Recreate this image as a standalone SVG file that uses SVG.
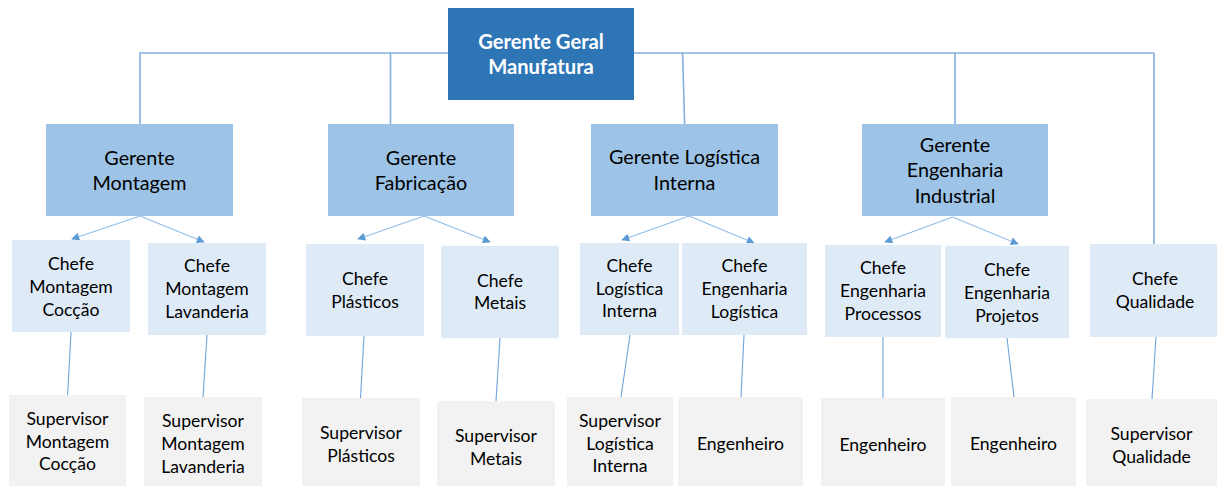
<svg xmlns="http://www.w3.org/2000/svg" width="1217" height="486" viewBox="0 0 1217 486">
  <style>
    text { font-family: Lato, "Liberation Sans", sans-serif; text-anchor: middle; fill: #000; }
    .top rect { fill: #2E75B6; }
    .top text { fill: #fff; font-weight: bold; font-size: 20.2px; }
    .mgr rect { fill: #9DC3E6; }
    .mgr text { font-size: 19.8px; }
    .chief rect { fill: #DEEBF7; }
    .chief text { font-size: 17.6px; }
    .sup rect { fill: #F2F2F2; }
    .sup text { font-size: 17.6px; }
    .trunk { stroke: #82B0DE; stroke-width: 1.6; fill: none; }
    .link { stroke: #6FA5DA; stroke-width: 1.1; fill: none; }
    .arrow { stroke: #93BDE6; stroke-width: 1.1; fill: none; marker-end: url(#head); }
  </style>
  <defs>
    <marker id="head" viewBox="0 0 10 10" refX="9" refY="5" markerWidth="10" markerHeight="8" markerUnits="userSpaceOnUse" orient="auto">
      <path d="M0,0 L10,5 L0,10 Z" fill="#5B9BD5"/>
    </marker>
  </defs>

  <!-- connectors -->
  <g id="connectors">
    <!-- trunk from the general manager -->
    <path class="trunk" d="M140,124 V53 H1154 M390.5,53 V124 M682.6,53 L684.6,124 M955,53 V124 M1154,53 V244"/>
    <!-- managers to chiefs -->
    <path class="arrow" d="M140,216 L72,239"/>
    <path class="arrow" d="M140,216 L204,242"/>
    <path class="arrow" d="M424,216 L358,239"/>
    <path class="arrow" d="M424,216 L490,242"/>
    <path class="arrow" d="M689,216 L622,240"/>
    <path class="arrow" d="M689,216 L754,243"/>
    <path class="arrow" d="M952.6,217 L885,242"/>
    <path class="arrow" d="M952.6,217 L1018,244"/>
    <!-- chiefs to supervisors -->
    <path class="link" d="M71,332 L67.6,395"/>
    <path class="link" d="M207,335 L203,397"/>
    <path class="link" d="M364,336 L360.5,398"/>
    <path class="link" d="M500,338 L496,401"/>
    <path class="link" d="M630,335 L621,397"/>
    <path class="link" d="M744,335 L741,397"/>
    <path class="link" d="M883,337 L883,398"/>
    <path class="link" d="M1007,338 L1014,397"/>
    <path class="link" d="M1156,337 L1152,399"/>
  </g>

  <!-- top level -->
  <g id="gerente-geral" class="top">
    <rect x="448" y="8" width="186" height="92"/>
    <text x="541" y="49">Gerente Geral</text>
    <text x="541" y="74">Manufatura</text>
  </g>

  <!-- managers -->
  <g id="gerente-montagem" class="mgr">
    <rect x="46" y="124" width="187" height="92"/>
    <text x="139.5" y="165">Gerente</text>
    <text x="139.5" y="190">Montagem</text>
  </g>
  <g id="gerente-fabricacao" class="mgr">
    <rect x="328" y="124" width="186" height="92"/>
    <text x="421" y="165">Gerente</text>
    <text x="421" y="190">Fabricação</text>
  </g>
  <g id="gerente-logistica" class="mgr">
    <rect x="591" y="124" width="187" height="92"/>
    <text x="684.5" y="164">Gerente Logística</text>
    <text x="684.5" y="190">Interna</text>
  </g>
  <g id="gerente-engenharia" class="mgr">
    <rect x="862" y="124" width="186" height="92"/>
    <text x="955" y="152">Gerente</text>
    <text x="955" y="177">Engenharia</text>
    <text x="955" y="203">Industrial</text>
  </g>

  <!-- chiefs -->
  <g id="chefe-coccao" class="chief">
    <rect x="12" y="240" width="118" height="92"/>
    <text x="71" y="270">Chefe</text>
    <text x="71" y="293">Montagem</text>
    <text x="71" y="316">Cocção</text>
  </g>
  <g id="chefe-lavanderia" class="chief">
    <rect x="148" y="243" width="118" height="92"/>
    <text x="207" y="272">Chefe</text>
    <text x="207" y="295">Montagem</text>
    <text x="207" y="318">Lavanderia</text>
  </g>
  <g id="chefe-plasticos" class="chief">
    <rect x="306" y="244" width="118" height="92"/>
    <text x="365" y="285">Chefe</text>
    <text x="365" y="308">Plásticos</text>
  </g>
  <g id="chefe-metais" class="chief">
    <rect x="441" y="246" width="118" height="92"/>
    <text x="500" y="287">Chefe</text>
    <text x="500" y="309">Metais</text>
  </g>
  <g id="chefe-logistica-interna" class="chief">
    <rect x="580" y="243" width="99" height="92"/>
    <text x="629.5" y="272">Chefe</text>
    <text x="629.5" y="295">Logística</text>
    <text x="629.5" y="317">Interna</text>
  </g>
  <g id="chefe-engenharia-logistica" class="chief">
    <rect x="682" y="243" width="125" height="92"/>
    <text x="744.5" y="272">Chefe</text>
    <text x="744.5" y="295">Engenharia</text>
    <text x="744.5" y="318">Logística</text>
  </g>
  <g id="chefe-processos" class="chief">
    <rect x="825" y="245" width="116" height="92"/>
    <text x="883" y="274">Chefe</text>
    <text x="883" y="297">Engenharia</text>
    <text x="883" y="320">Processos</text>
  </g>
  <g id="chefe-projetos" class="chief">
    <rect x="945" y="246" width="124" height="92"/>
    <text x="1007" y="276">Chefe</text>
    <text x="1007" y="299">Engenharia</text>
    <text x="1007" y="322">Projetos</text>
  </g>
  <g id="chefe-qualidade" class="chief">
    <rect x="1090" y="244" width="130" height="93"/>
    <text x="1155" y="285">Chefe</text>
    <text x="1155" y="308">Qualidade</text>
  </g>

  <!-- supervisors and engineers -->
  <g id="sup-coccao" class="sup">
    <rect x="9" y="395" width="117" height="95"/>
    <text x="67.5" y="425">Supervisor</text>
    <text x="67.5" y="448">Montagem</text>
    <text x="67.5" y="470">Cocção</text>
  </g>
  <g id="sup-lavanderia" class="sup">
    <rect x="144" y="397" width="118" height="93"/>
    <text x="203" y="427">Supervisor</text>
    <text x="203" y="450">Montagem</text>
    <text x="203" y="473">Lavanderia</text>
  </g>
  <g id="sup-plasticos" class="sup">
    <rect x="302" y="398" width="118" height="92"/>
    <text x="361" y="439">Supervisor</text>
    <text x="361" y="462">Plásticos</text>
  </g>
  <g id="sup-metais" class="sup">
    <rect x="437" y="401" width="118" height="89"/>
    <text x="496" y="442">Supervisor</text>
    <text x="496" y="465">Metais</text>
  </g>
  <g id="sup-logistica" class="sup">
    <rect x="567" y="397" width="106" height="93"/>
    <text x="620" y="427">Supervisor</text>
    <text x="620" y="450">Logística</text>
    <text x="620" y="472">Interna</text>
  </g>
  <g id="eng-logistica" class="sup">
    <rect x="678" y="397" width="125" height="93"/>
    <text x="740.5" y="450">Engenheiro</text>
  </g>
  <g id="eng-processos" class="sup">
    <rect x="821" y="398" width="124" height="92"/>
    <text x="883" y="451">Engenheiro</text>
  </g>
  <g id="eng-projetos" class="sup">
    <rect x="951" y="397" width="125" height="93"/>
    <text x="1013.5" y="450">Engenheiro</text>
  </g>
  <g id="sup-qualidade" class="sup">
    <rect x="1086" y="399" width="131" height="91"/>
    <text x="1151.5" y="440">Supervisor</text>
    <text x="1151.5" y="463">Qualidade</text>
  </g>
</svg>
